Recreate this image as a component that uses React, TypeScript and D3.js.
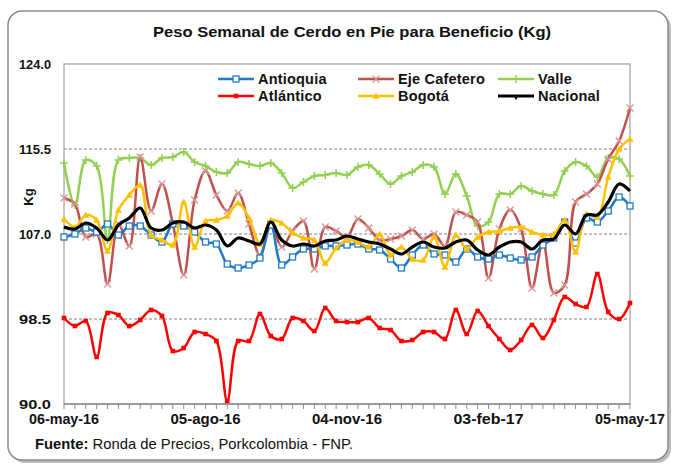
import React from "react";
import * as d3 from "d3";

const dates = Array.from({ length: 53 }, (_, i) => i);
const tickLabels = ["06-may-16", "05-ago-16", "04-nov-16", "03-feb-17", "05-may-17"];
const tickIdx = [0, 13, 26, 39, 52];
const yTicks = [90, 98.5, 107, 115.5, 124];

const antioquia = [106.7, 107.0, 107.6, 107.2, 108.0, 106.9, 107.8, 107.8, 106.9, 106.2, 108.0, 107.8, 107.2, 106.2, 106.0, 104.0, 103.6, 103.9, 104.6, 107.9, 103.9, 104.7, 105.5, 105.5, 105.8, 105.8, 105.9, 106.0, 105.5, 105.4, 104.5, 103.6, 104.9, 105.9, 105.0, 104.9, 104.2, 105.5, 104.7, 104.5, 104.9, 104.6, 104.4, 104.7, 105.9, 106.6, 108.2, 106.1, 108.6, 108.2, 109.3, 110.7, 109.8];
const ejeCafetero = [110.6, 110.0, 106.7, 107.0, 102.0, 108.0, 105.8, 114.7, 109.3, 112.0, 108.0, 102.9, 110.4, 113.3, 110.9, 109.3, 111.1, 108.0, 104.9, 108.0, 105.7, 107.3, 108.3, 103.5, 107.7, 107.3, 106.7, 108.5, 107.6, 106.4, 106.5, 106.8, 107.4, 106.5, 107.0, 105.8, 109.2, 108.9, 108.2, 102.6, 107.5, 109.4, 107.5, 101.6, 106.2, 101.1, 101.9, 110.2, 111.0, 112.0, 114.5, 116.3, 119.6];
const valle = [114.1, 109.9, 114.4, 113.8, 106.4, 114.4, 114.6, 114.6, 113.9, 114.6, 114.7, 115.2, 114.2, 113.8, 113.2, 113.1, 114.2, 114.0, 113.8, 114.1, 113.1, 111.6, 112.2, 112.8, 112.9, 113.1, 112.9, 113.7, 113.9, 113.0, 112.0, 112.8, 113.2, 113.9, 113.7, 111.0, 113.0, 110.8, 107.8, 108.2, 111.0, 111.0, 111.8, 111.3, 111.0, 110.9, 113.3, 114.2, 113.8, 112.7, 114.6, 114.5, 112.8];
const atlantico = [98.6, 97.8, 98.3, 94.7, 99.1, 98.9, 97.8, 98.4, 99.4, 98.8, 95.3, 95.6, 97.2, 97.0, 96.3, 90.3, 96.3, 96.3, 99.0, 96.8, 96.5, 98.6, 98.3, 97.3, 99.6, 98.3, 98.2, 98.2, 98.6, 97.6, 97.4, 96.3, 96.4, 97.2, 97.2, 96.5, 99.4, 97.0, 99.3, 97.8, 96.5, 95.4, 96.4, 97.9, 96.6, 98.4, 100.7, 100.0, 99.7, 103.0, 99.2, 98.5, 100.1];
const bogota = [108.5, 107.7, 108.9, 108.4, 105.3, 109.4, 110.9, 111.9, 106.9, 106.4, 105.9, 110.2, 105.7, 108.3, 108.4, 108.8, 110.1, 108.6, 106.0, 108.4, 108.1, 107.1, 106.6, 106.4, 104.1, 105.6, 106.4, 106.2, 105.7, 107.0, 104.9, 105.7, 104.5, 104.4, 106.7, 103.7, 106.9, 105.5, 106.7, 107.2, 107.3, 107.6, 107.7, 107.2, 106.9, 107.0, 108.4, 105.2, 109.0, 108.7, 112.7, 115.5, 116.5];
const nacional = [107.7, 107.5, 108.1, 107.6, 106.4, 107.9, 108.6, 109.6, 107.6, 107.4, 108.1, 108.2, 107.6, 107.9, 107.4, 105.8, 106.6, 106.3, 106.0, 108.2, 106.4, 105.8, 106.0, 105.8, 106.3, 106.4, 106.8, 106.5, 106.2, 106.0, 105.5, 105.0, 105.7, 106.2, 105.7, 105.6, 106.2, 106.4, 105.4, 104.9, 105.7, 106.2, 106.2, 105.5, 106.4, 106.5, 107.9, 107.0, 108.9, 108.9, 110.2, 112.0, 111.3];

type Marker = "square" | "x" | "plus" | "smallsq" | "tri" | "none";
const series: { name: string; values: number[]; color: string; marker: Marker; width: number }[] = [
  { name: "Antioquia", values: antioquia, color: "#1F7BC8", marker: "square", width: 2.5 },
  { name: "Eje Cafetero", values: ejeCafetero, color: "#C0504D", marker: "x", width: 2.5 },
  { name: "Valle", values: valle, color: "#92D050", marker: "plus", width: 2.5 },
  { name: "Atlántico", values: atlantico, color: "#FF0000", marker: "smallsq", width: 2.5 },
  { name: "Bogotá", values: bogota, color: "#FFC000", marker: "tri", width: 2.5 },
  { name: "Nacional", values: nacional, color: "#000000", marker: "none", width: 3.2 },
];
const drawOrder = [3, 2, 1, 0, 4, 5];

const L = 64, R = 630, T = 64, B = 404;

function MarkerShape({ type, x, y, color }: { type: Marker; x: number; y: number; color: string }) {
  switch (type) {
    case "square":
      return <rect x={x - 3} y={y - 3} width={6} height={6} fill="#fff" stroke={color} strokeWidth={1.3} />;
    case "x":
      return (
        <path d={`M${x - 3.5},${y - 3.5}L${x + 3.5},${y + 3.5}M${x - 3.5},${y + 3.5}L${x + 3.5},${y - 3.5}`} stroke="#D99694" strokeWidth={1.3} fill="none" />
      );
    case "plus":
      return <path d={`M${x - 4},${y}L${x + 4},${y}M${x},${y - 4}L${x},${y + 4}`} stroke={color} strokeWidth={1.5} fill="none" />;
    case "smallsq":
      return <rect x={x - 2.3} y={y - 2.3} width={4.6} height={4.6} fill={color} />;
    case "tri":
      return <path d={`M${x},${y - 3.5}L${x + 3.5},${y + 2.8}L${x - 3.5},${y + 2.8}Z`} fill={color} />;
    default:
      return null;
  }
}

export default function App() {
  const x = d3.scalePoint<number>().domain(dates).range([L, R]);
  const y = d3.scaleLinear().domain([90, 124]).range([B, T]);
  const line = d3
    .line<number>()
    .x((_, i) => x(i) as number)
    .y((d) => y(d))
    .curve(d3.curveCatmullRom.alpha(0.5));

  const font = "'Liberation Sans', Arial, sans-serif";

  const legendPos = [
    { lx: 218, ly: 79 },
    { lx: 358, ly: 79 },
    { lx: 498, ly: 79 },
    { lx: 218, ly: 96 },
    { lx: 358, ly: 96 },
    { lx: 498, ly: 96 },
  ];

  return (
    <svg width={678} height={470} style={{ position: "fixed", left: 0, top: 0 }} fontFamily={font}>
      <rect x={0} y={0} width={678} height={470} fill="#fff" />
      <rect x={11} y={14} width={660} height={449} rx={14} fill="#bdbdbd" />
      <rect x={8} y={11} width={660} height={449} rx={14} fill="#fff" stroke="#8c8c8c" strokeWidth={1.5} />
      <text x={352} y={37} textAnchor="middle" fontWeight="bold" fontSize={15} fill="#111" textLength={398} lengthAdjust="spacingAndGlyphs">
        Peso Semanal de Cerdo en Pie para Beneficio (Kg)
      </text>

      {yTicks.filter((t) => t > 90 && t < 124).map((t) => (
        <line key={t} x1={L} x2={R} y1={y(t)} y2={y(t)} stroke="#808080" strokeWidth={1} strokeDasharray="3,2" />
      ))}
      <rect x={L} y={T} width={R - L} height={B - T} fill="none" stroke="#A6A6A6" strokeWidth={1.3} />
      <line x1={L} x2={R} y1={B} y2={B} stroke="#8c8c8c" strokeWidth={1.3} />
      {dates.map((d) => (
        <line key={d} x1={x(d)} x2={x(d)} y1={B} y2={B + 5} stroke="#8c8c8c" strokeWidth={1} />
      ))}

      {yTicks.map((t) => (
        <text key={t} x={51} y={y(t) + 5} textAnchor="end" fontWeight="bold" fontSize={13.5} fill="#111" textLength={32} lengthAdjust="spacingAndGlyphs">
          {t.toFixed(1)}
        </text>
      ))}
      <text transform={`translate(33,197) rotate(-90)`} textAnchor="middle" fontWeight="bold" fontSize={13} fill="#111">
        Kg
      </text>
      {tickIdx.map((ti, k) => (
        <text key={ti} x={x(ti)} y={424} textAnchor="middle" fontWeight="bold" fontSize={15} fill="#111" textLength={70} lengthAdjust="spacingAndGlyphs">
          {tickLabels[k]}
        </text>
      ))}
      <text x={35} y={449} fontSize={14.5} fill="#111" textLength={318} lengthAdjust="spacingAndGlyphs">
        <tspan fontWeight="bold">Fuente:</tspan> Ronda de Precios, Porkcolombia  - FNP.
      </text>

      {drawOrder.map((si) => {
        const s = series[si];
        return (
          <g key={s.name}>
            <path d={line(s.values) || ""} fill="none" stroke={s.color} strokeWidth={s.width} strokeLinejoin="round" />
            {s.values.map((v, i) => (
              <MarkerShape key={i} type={s.marker} x={x(i) as number} y={y(v)} color={s.color} />
            ))}
          </g>
        );
      })}

      {series.map((s, i) => {
        const p = legendPos[i];
        return (
          <g key={s.name}>
            <line x1={p.lx} x2={p.lx + 36} y1={p.ly} y2={p.ly} stroke={s.color} strokeWidth={s.width} />
            <MarkerShape type={s.marker} x={p.lx + 18} y={p.ly} color={s.color} />
            {s.marker === "none" && <path d={`M${p.lx + 16},${p.ly + 1}L${p.lx + 20},${p.ly + 1}L${p.lx + 18},${p.ly + 4}Z`} fill="#000" />}
            <text x={p.lx + 40} y={p.ly + 5} fontSize={14.5} fill="#111" fontWeight="bold" letterSpacing={0.2}>
              {s.name}
            </text>
          </g>
        );
      })}
    </svg>
  );
}
